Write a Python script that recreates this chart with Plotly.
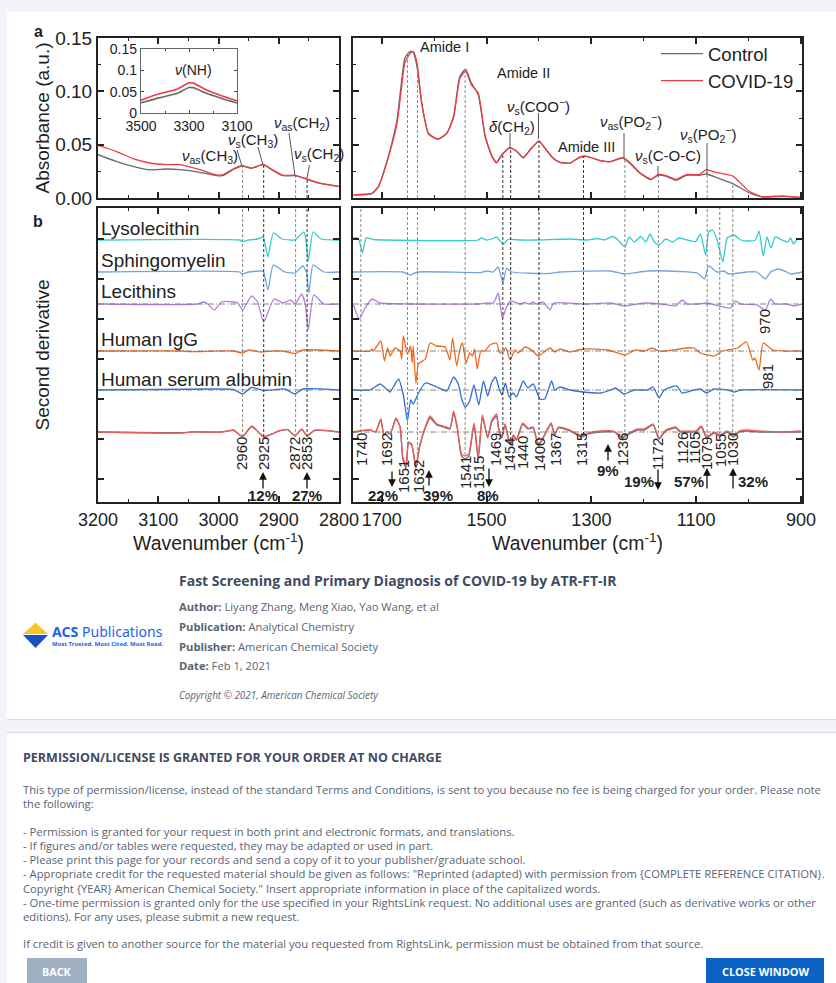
import plotly.graph_objects as go

# ---------- Panel a spectra ----------
a_left_wn = [3200,3170,3142,3114,3086,3064,3031,3003,2992,2976,2961,2945,2926,2909,2893,2873,2854,2837,2800]
a_left_control = [.0406,.0344,.0297,.0263,.0272,.0266,.0241,.0209,.0213,.0266,.0300,.0278,.0313,.0256,.0209,.0209,.0178,.0144,.0106]
a_left_covid = [.0494,.0438,.0369,.0328,.0313,.0313,.0266,.0216,.0219,.0272,.0303,.0281,.0316,.0259,.0213,.0213,.0181,.0147,.0109]

a_right_wn = [1754,1719,1706,1697,1684,1671,1662,1656,1646,1640,1633,1624,1611,1593,1576,1563,1551,1540,1529,1516,1503,1490,1481,1471,1456,1443,1430,1417,1400,1389,1373,1360,1341,1322,1309,1284,1265,1240,1227,1208,1186,1173,1157,1138,1119,1094,1081,1062,1030,998,973,935,900]
a_right_control = [.0028,.0041,.0109,.0234,.0453,.0734,.1109,.1313,.1375,.1366,.1234,.0891,.0609,.0553,.0609,.0766,.1141,.1209,.1078,.0969,.0578,.0391,.0334,.0406,.0469,.0438,.0381,.0453,.0531,.0469,.0375,.0334,.0328,.0381,.0391,.0353,.0341,.0375,.0328,.0234,.0172,.0213,.0203,.0166,.0213,.0213,.0225,.0194,.0134,.0047,.0009,.0016,.0003]
a_right_covid = [.0030,.0043,.0112,.0230,.0440,.0700,.1050,.1270,.1355,.1375,.1270,.0900,.0600,.0550,.0605,.0755,.1120,.1190,.1060,.0985,.0590,.0395,.0330,.0400,.0470,.0440,.0375,.0450,.0535,.0470,.0370,.0335,.0325,.0385,.0390,.0350,.0340,.0378,.0335,.0240,.0175,.0220,.0210,.0175,.0220,.0220,.0265,.0240,.0205,.0060,.0012,.0020,.0005]

inset_wn = [3500,3421,3351,3300,3281,3225,3170,3100]
inset_control = [.0240,.0360,.0455,.0597,.0590,.0455,.0353,.0235]
inset_covid = [.0300,.0455,.0557,.0707,.0700,.0534,.0416,.0283]

# ---------- Panel b second derivatives: (wavenumber, deviation from own baseline) ----------
b_names = ["Lysolecithin","Sphingomyelin","Lecithins","Human IgG","Human serum albumin","Serum"]
b_colors = ["#35cccc","#6ea6e0","#b57fe0","#ef6a1f","#2f6fd6","#ef5a5a"]
b_offsets = [262,230,198,151,112,70]

bl_wn = [
 [3200,2965,2960,2950,2935,2926,2924,2918,2909,2895,2880,2873,2858,2855,2851,2843,2830,2800],
 [3200,2965,2960,2950,2928,2925,2918,2909,2890,2873,2860,2854,2850,2843,2825,2800],
 [3200,3035,3025,3018,3007,2995,2975,2968,2960,2945,2935,2925,2908,2893,2880,2873,2862,2856,2851,2842,2825,2800],
 [3200,3060,3050,2975,2960,2950,2930,2910,2895,2872,2860,2800],
 [3200,3010,2975,2960,2945,2925,2890,2873,2860,2800],
 [3200,3060,3045,2995,2985,2975,2960,2945,2925,2900,2885,2873,2862,2853,2840,2800],
]
bl_dev = [
 [0,0,-1.5,0,1,3,0,-17,7,1,0,0,8,0,-21,8,1,0],
 [0,0,-2,0,1,0,-18,7,0,-1,6,0,-21,7,0,0],
 [0,0,2,0,-6,2,2,1,-6,8,2,-18,5,1,4,0,10,0,-26,9,0,0],
 [0,0,-.7,0,-2,1,-1,0,0,-2.5,1,0],
 [0,1,.5,-4,2.5,-.5,1,-4,1,0],
 [0,-1,0,0,1,2,-5,6,-5,1,2.5,-4,3,-4,2,0],
]
br_wn = [
 [1755,1746,1743,1737,1730,1716,1516,1510,1500,1490,1481,1476,1468,1459,1436,1405,1341,1308,1289,1276,1259,1249,1236,1228,1218,1206,1196,1188,1180,1171,1158,1145,1133,1117,1101,1092,1082,1076,1069,1060,1049,1041,1028,1015,1003,987,980,972,965,957,949,936,925,920,914,907,898],
 [1755,1660,1646,1633,1510,1500,1487,1478,1469,1462,1452,1379,1360,1263,1238,1193,1130,1098,1084,1076,1060,1047,1038,1003,984,968,958,943,927,920,898],
 [1754,1743,1732,1719,1703,1646,1516,1500,1487,1478,1475,1470,1462,1454,1436,1427,1419,1411,1405,1392,1379,1372,1316,1263,1238,1199,1168,1139,1127,1117,1098,1079,1035,1025,1015,984,968,958,949,927,914,898],
 [1755,1722,1719,1716,1702,1695,1689,1684,1675,1665,1662,1659,1651,1645,1642,1640,1635,1630,1617,1608,1595,1579,1570,1565,1557,1551,1546,1539,1532,1527,1523,1518,1511,1503,1494,1481,1475,1470,1463,1455,1446,1440,1427,1414,1401,1379,1369,1360,1341,1316,1268,1236,1216,1199,1184,1171,1158,1120,1104,1092,1066,1050,1021,1004,992,988,980,972,954,932,898],
 [1755,1722,1716,1703,1687,1684,1668,1659,1651,1645,1640,1630,1617,1595,1576,1563,1554,1548,1541,1533,1524,1515,1506,1498,1490,1483,1477,1471,1464,1457,1449,1443,1430,1421,1411,1398,1389,1376,1370,1360,1341,1316,1282,1263,1254,1238,1218,1193,1182,1171,1161,1137,1127,1104,1092,1080,1066,1040,1028,1015,898],
 [1755,1722,1712,1702,1696,1691,1684,1673,1665,1660,1654,1649,1643,1635,1627,1617,1608,1595,1582,1570,1563,1556,1548,1541,1534,1524,1516,1508,1498,1490,1481,1477,1471,1465,1455,1449,1443,1431,1421,1411,1401,1389,1377,1370,1363,1341,1318,1306,1282,1257,1241,1228,1212,1199,1182,1171,1158,1139,1130,1114,1101,1090,1080,1066,1054,1041,1029,1018,1002,980,939,900],
]
br_dev = [
 [2,2,-1,-13,2,.5,0,2,0,1,3,0,-4,.5,0,0,1,0,1.5,0,3.5,0,-7,3,-2,3.5,-2,6,-2,-5,1,-2,2,0,-1.5,6,-15,8,10,0,-22,2,5,0,-1,0,9,-16,3,-8,3,0,-2,2,-4,1,1],
 [0,0,-3,0,-.5,1,0,5,-11,3.5,0,-1.5,0,1,-2,1,.5,-1,-7,6,0,1,-2,0,0,-7,0,3,0,-2,0],
 [-1,-15,-4,5,1,0,0,1,1,11,3,-14,-3,3,0,1.5,0,2,0,2,-6,1,0,1,-2,1,0,-2,4,0,0,1,-4,3,0,-1,-6,5,0,0,-2,0],
 [0,0,2,0,10,-10,3,-5,3,0,-8,15,-3,5,-12,5,-32,-13,-8,8,5,4,-9,13,-15,2,8,-12,-2,-5,2,-18,0,0,6,8,-2,-1,3,-9,1,-2,4,1,-5,3,-1,2,-1,2,1,-4,1,0,3,0,0,3,3,-2,-5,0,3,9,-9,-7,-19,8,1,0,0],
 [0,0,2,6,-1,-2,11,-5,-31,-10,-14,-3,7,3,-1,13,6,-8,-17,-12,5,-15,9,-6,8,13,3,-5,7,-7,-3,-7,9,2,6,-9,-9,9,0,3,0,-2,-3,0,2,-4,0,0,3,-8,0,4,-3,0,1,-3,1,0,-2,0,0],
 [0,2,0,13,-3,0,-2,14,5,-25,-33,-10,-12,-33,-12,5,16,8,6,4,21,5,-22,-24,-22,9,-25,17,-5,12,18,4,-5,8,-12,-3,-7,9,4,5,-13,-2,9,-2,5,2,-4,-1,1,1,-5,-1,3,3,8,-6,2,5,1,1,1,6,-5,0,-3,1,-4,1,2,1,0,1],
]
# control (grey) serum curve lying under the red one
bl_serum_control = [0,-.7,0,0,.8,1.7,-4.5,5.5,-4.5,.8,2.2,-3.6,2.7,-3.6,1.7,0]
br_serum_control = [0,2,0,12,-3,0,-2,13,5,-27,-36,-11,-13,-36,-13,4,14,7,5,3,19,4,-24,-27,-24,7,-27,15,-6,10,16,3,-6,7,-13,-4,-8,8,3,4,-14,-3,8,-3,4,1,-5,-2,0,0,-6,-2,2,2,7,-7,1,4,0,0,0,5,-6,-1,-4,0,-5,0,1,0,0,0]

peaks_left = [2960,2925,2872,2853]
peaks_left_a = [.0303,.0316,.0213,.0181]
peaks_left_b = [65,65,65,65]
peaks_right = [1740,1651,1632,1541,1469,1454,1400,1315,1236,1172,1079,1055,1030]
peaks_right_a = [None,.135,.122,.120,.040,.047,.053,.039,.037,.021,.025,None,.014]
peaks_right_b = [70,37,37,47,67,57,57,67,65,64,65,67,65]
dark_peaks = {2925,2853,1469,1454,1400,1315}

W, H = 836, 983
CHART = "Liberation Sans"
PAGE = "Open Sans"
def X(p): return p / W
def Y(p): return 1 - p / H

fig = go.Figure()

def add(x, y, xa, ya, color, width=1.3, name=None, legend=False):
    fig.add_trace(go.Scatter(x=x, y=y, xaxis=xa, yaxis=ya, mode="lines", name=name,
                             showlegend=legend, hoverinfo="skip",
                             line=dict(color=color, width=width, shape="spline", smoothing=0.5)))

GREY, RED = "#6a6a6a", "#ef3b45"
add(a_left_wn, a_left_control, "x", "y", GREY)
add(a_left_wn, a_left_covid, "x", "y", RED)
add(a_right_wn, a_right_control, "x2", "y2", GREY, name="Control", legend=True)
add(a_right_wn, a_right_covid, "x2", "y2", RED, name="COVID-19", legend=True)
add(inset_wn, inset_control, "x5", "y5", GREY, 1.6)
add(inset_wn, inset_covid, "x5", "y5", RED, 1.6)

for i, off in enumerate(b_offsets):
    if i == 5:
        add(bl_wn[i], [off + v for v in bl_serum_control], "x3", "y3", GREY)
        add(br_wn[i], [off + v for v in br_serum_control], "x4", "y4", GREY)
    add(bl_wn[i], [off + v for v in bl_dev[i]], "x3", "y3", b_colors[i])
    add(br_wn[i], [off + v for v in br_dev[i]], "x4", "y4", b_colors[i])

# ---------- page furniture ----------
shapes = []
def rect(x0, y0, x1, y1, fill, line=None):
    shapes.append(dict(type="rect", xref="paper", yref="paper", x0=X(x0), x1=X(x1), y0=Y(y1), y1=Y(y0),
                       fillcolor=fill, line=dict(width=0) if line is None else dict(color=line, width=1), layer="below"))
rect(7, 719, 836, 720, "#d9dbe0")
rect(7, 12, 836, 719, "#ffffff")
rect(7, 732, 836, 733, "#d9dbe0")
rect(7, 733, 836, 983, "#ffffff")
rect(27, 958, 87, 983, "#9fb0c3")
rect(706, 958, 824, 983, "#0a62c4")

def poly(points, fill):
    path = "M " + " L ".join(f"{X(a):.5f},{Y(b):.5f}" for a, b in points) + " Z"
    shapes.append(dict(type="path", xref="paper", yref="paper", path=path, fillcolor=fill, line=dict(width=0)))
poly([(23,634),(32,626),(35.5,622.5),(39,626),(48,634)], "#f6c51e")
poly([(23,635),(48,635),(35.5,648)], "#1d4fc0")

def seg(xa, ya, x0, y0, x1, y1, color, dash, width=1):
    shapes.append(dict(type="line", xref=xa, yref=ya, x0=x0, x1=x1, y0=y0, y1=y1,
                       line=dict(color=color, width=width, dash=dash)))
def pseg(x0, y0, x1, y1, color="#555555", width=1):
    shapes.append(dict(type="line", xref="paper", yref="paper", x0=X(x0), x1=X(x1), y0=Y(y0), y1=Y(y1),
                       line=dict(color=color, width=width)))

for p, a, b in zip(peaks_left, peaks_left_a, peaks_left_b):
    c = "#333333" if p in dark_peaks else "#888888"
    seg("x", "y", p, 0, p, a, c, "3px,2px")
    seg("x3", "y3", p, b, p, 294, c, "3px,2px")
for p, a, b in zip(peaks_right, peaks_right_a, peaks_right_b):
    c = "#333333" if p in dark_peaks else "#888888"
    if a is not None:
        seg("x2", "y2", p, 0, p, a, c, "3px,2px")
    seg("x4", "y4", p, b, p, 294, c, "3px,2px")

for off, xa, lo, hi in [(198,"x3",3200,2800),(151,"x3",3200,2800),(112,"x3",3200,2800),
                        (198,"x4",1755,898),(151,"x4",1755,898),(112,"x4",1755,898),(70,"x4",1755,898)]:
    seg(xa, "y3" if xa == "x3" else "y4", lo, off, hi, off, "#777777", "6px,2px,1px,2px", 0.9)

# leader lines, panel a
pseg(242,166,237,150); pseg(263,165,258,147); pseg(295,176,289,133); pseg(307,178,309.5,165)
pseg(538.5,139,538.5,113); pseg(510,149,510,133); pseg(624,158,624,133); pseg(658,176,658,166); pseg(707,174,707,143)

ann = []
def txt(px, py, text, size=15, anchor="center", angle=0, color="#222222", family=CHART):
    if anchor == "left":
        px -= 2
    ann.append(dict(xref="paper", yref="paper", x=X(px), y=Y(py), text=text, showarrow=False,
                    xanchor=anchor, yanchor="middle", textangle=angle, align="left",
                    font=dict(size=size, color=color, family=family)))
def arrow(px, y_from, y_to):
    ann.append(dict(xref="paper", yref="paper", x=X(px), y=Y(y_to), ax=0, ay=y_from - y_to,
                    text="", showarrow=True,
                    arrowhead=2, arrowsize=1.2, arrowwidth=1.3, arrowcolor="#111111"))

txt(38, 31, "<b>a</b>", 16); txt(38, 221, "<b>b</b>", 16)
txt(193, 70, "<i>ν</i>(NH)", 14)
NU = "<i>ν</i>"
LS = 15
txt(210,156,NU+"<sub>as</sub>(CH<sub>3</sub>)",LS); txt(253,141,NU+"<sub>s</sub>(CH<sub>3</sub>)",LS)
txt(302,123,NU+"<sub>as</sub>(CH<sub>2</sub>)",LS); txt(319,154,NU+"<sub>s</sub>(CH<sub>2</sub>)",LS)
txt(444,47,"Amide I",14.5); txt(523,73,"Amide II",14.5); txt(586,147,"Amide III",14.5)
txt(538,107,NU+"<sub>s</sub>(COO<sup>−</sup>)",LS); txt(512,127,"<i>δ</i>(CH<sub>2</sub>)",LS)
txt(631,122,NU+"<sub>as</sub>(PO<sub>2</sub><sup>−</sup>)",LS)
txt(668,156,NU+"<sub>s</sub>(C-O-C)",LS); txt(708,134,NU+"<sub>s</sub>(PO<sub>2</sub><sup>−</sup>)",LS)

for name, py in zip(b_names[:5], [229,260,292,340,379]):
    txt(101, py, name, 19, "left")

for lab, px, py in [("2960",242,454),("2925",264,454),("2872",295,454),("2853",307,454),
                    ("1740",362,450),("1692",387,450),("1651",403,477),("1632",418,477),("1541",465,473),("1515",478,473),
                    ("1469",496,450),("1454",509,455),("1440",522,453),("1400",539,455),("1367",556,450),("1315",582,450),
                    ("1236",623,450),("1172",658,454),("1126",682,448),("1105",694,448),("1079",707,454),("1055",720,451),
                    ("1030",733,450),("970",764,322),("981",767,377)]:
    txt(px, py, lab, 15, angle=-90)
for lab, px, py in [("12%",263,495),("27%",307,495),("22%",383,495),("39%",438,495),("8%",488,495),
                    ("9%",608,470),("19%",639,481),("57%",689,481),("32%",753,481)]:
    txt(px, py, f"<b>{lab}</b>", 15)
for px, a, b in [(263,490,472),(307,490,472),(392,470,487),(429,487,470),(489,467,487),(608,462,444),(658,468,490),(707,490,468),(733,490,468)]:
    arrow(px, a, b)

# page text
T1, T2 = "#3f4b5f", "#5a6474"
txt(179,580,"<b>Fast Screening and Primary Diagnosis of COVID-19 by ATR-FT-IR</b>",14,"left",color=T1,family=PAGE)
txt(179,606,"<b>Author:</b> Liyang Zhang, Meng Xiao, Yao Wang, et al",11.2,"left",color=T2,family=PAGE)
txt(179,626,"<b>Publication:</b> Analytical Chemistry",11.2,"left",color=T2,family=PAGE)
txt(179,646,"<b>Publisher:</b> American Chemical Society",11.2,"left",color=T2,family=PAGE)
txt(179,665,"<b>Date:</b> Feb 1, 2021",11.2,"left",color=T2,family=PAGE)
txt(179,695,"<i>Copyright © 2021, American Chemical Society</i>",9.9,"left",color=T2,family=PAGE)
txt(52,631,'<b>ACS</b> Publications',14.1,"left",color="#1f63e6",family="Noto Sans")
txt(52,644,"<b>Most Trusted. Most Cited. Most Read.</b>",6,"left",color="#1f63e6",family="Noto Sans")

txt(23,757,"<b>PERMISSION/LICENSE IS GRANTED FOR YOUR ORDER AT NO CHARGE</b>",12.5,"left",color=T1,family=PAGE)
body = [(789,"This type of permission/license, instead of the standard Terms and Conditions, is sent to you because no fee is being charged for your order. Please note"),
 (803,"the following:"),
 (831,"- Permission is granted for your request in both print and electronic formats, and translations."),
 (845,"- If figures and/or tables were requested, they may be adapted or used in part."),
 (859,"- Please print this page for your records and send a copy of it to your publisher/graduate school."),
 (873,'- Appropriate credit for the requested material should be given as follows: "Reprinted (adapted) with permission from {COMPLETE REFERENCE CITATION}.'),
 (888,'Copyright {YEAR} American Chemical Society." Insert appropriate information in place of the capitalized words.'),
 (902,"- One-time permission is granted only for the use specified in your RightsLink request. No additional uses are granted (such as derivative works or other"),
 (916,"editions). For any uses, please submit a new request."),
 (943,"If credit is given to another source for the material you requested from RightsLink, permission must be obtained from that source.")]
for py, t in body:
    txt(23, py, t, 11.25, "left", color=T2, family=PAGE)
txt(57,971,"<b>BACK</b>",10.8,color="#ffffff",family=PAGE)
txt(765,971,"<b>CLOSE WINDOW</b>",10.9,color="#ffffff",family=PAGE)

def xaxis(dom, rng, major, minor, labels, anchor):
    return dict(domain=[X(dom[0]),X(dom[1])], range=rng, dtick=major, tick0=900 if major==200 else 2800,
                ticks="inside", ticklen=6, tickwidth=1.5, tickcolor="#222", mirror="ticks",
                minor=dict(dtick=minor, ticks="inside", ticklen=3, tickwidth=1.2, tickcolor="#222"),
                showline=True, linecolor="#222", linewidth=2, showgrid=False, zeroline=False,
                showticklabels=labels, tickfont=dict(family=CHART,size=18,color="#222"), anchor=anchor)
def yaxis(dom, rng, major, minor, labels, anchor, tick0=0):
    d = dict(domain=[Y(dom[1]),Y(dom[0])], range=rng, dtick=major, tick0=tick0,
             ticks="inside", ticklen=6, tickwidth=1.5, tickcolor="#222", mirror="ticks",
             showline=True, linecolor="#222", linewidth=2, showgrid=False, zeroline=False,
             showticklabels=labels, tickfont=dict(family=CHART,size=19,color="#222"), anchor=anchor)
    if minor: d["minor"] = dict(dtick=minor, ticks="inside", ticklen=3, tickwidth=1.2, tickcolor="#222")
    return d

wn_title = dict(text="Wavenumber (cm<sup>-1</sup>)", font=dict(family=CHART,size=19.4,color="#222"), standoff=7)
xa3 = xaxis((98,339),[3200,2800],100,50,True,"y3"); xa3["title"]=wn_title
xa4 = xaxis((353,802),[1755,898],200,100,True,"y4"); xa4["title"]=wn_title
ya1 = yaxis((38,198),[0,0.15],0.05,0.025,True,"x"); ya1["tickformat"]=".2f"
ya1["title"]=dict(text="Absorbance (a.u.)",font=dict(family=CHART,size=19,color="#222"),standoff=1)
ya3 = yaxis((208,502),[0,294],40,None,False,"x3",23)
ya3["title"]=dict(text="Second derivative",font=dict(family=CHART,size=19,color="#222"),standoff=41)
x5 = dict(domain=[X(141),X(237)], range=[3500,3100], tickvals=[3500,3300,3100], ticks="inside", ticklen=3, mirror="ticks",
          minor=dict(dtick=100,ticks="inside",ticklen=2), showline=True, linecolor="#666", linewidth=1.3, showgrid=False, zeroline=False,
          tickfont=dict(family=CHART,size=14,color="#222"), anchor="y5")
y5 = dict(domain=[Y(113),Y(49)], range=[0,0.15], tickvals=[0,0.05,0.1,0.15], ticktext=["0","0.05","0.1","0.15"], ticks="inside", ticklen=3, mirror="ticks",
          showline=True, linecolor="#666", linewidth=1.3, showgrid=False, zeroline=False,
          tickfont=dict(family=CHART,size=14,color="#222"), anchor="x5")

fig.update_layout(
    width=W, height=H, autosize=False, margin=dict(l=0,r=0,t=0,b=0,autoexpand=False),
    paper_bgcolor="#f2f4f9", plot_bgcolor="rgba(0,0,0,0)", hovermode=False,
    xaxis=xaxis((98,339),[3200,2800],100,50,False,"y"),
    xaxis2=xaxis((353,802),[1755,898],200,100,False,"y2"),
    xaxis3=xa3, xaxis4=xa4, xaxis5=x5,
    yaxis=ya1, yaxis2=yaxis((38,198),[0,0.15],0.05,0.025,False,"x2"),
    yaxis3=ya3, yaxis4=yaxis((208,502),[0,294],40,None,False,"x4",23), yaxis5=y5,
    legend=dict(x=X(656), y=Y(35), xanchor="left", yanchor="top", bgcolor="rgba(0,0,0,0)",
                font=dict(family=CHART,size=18.5,color="#222"), itemwidth=42, tracegroupgap=0),
    shapes=shapes, annotations=ann,
)
fig.write_html("out.html", config=dict(displayModeBar=False),
               post_script="document.body.style.margin='0';document.documentElement.style.overflow='hidden';")
